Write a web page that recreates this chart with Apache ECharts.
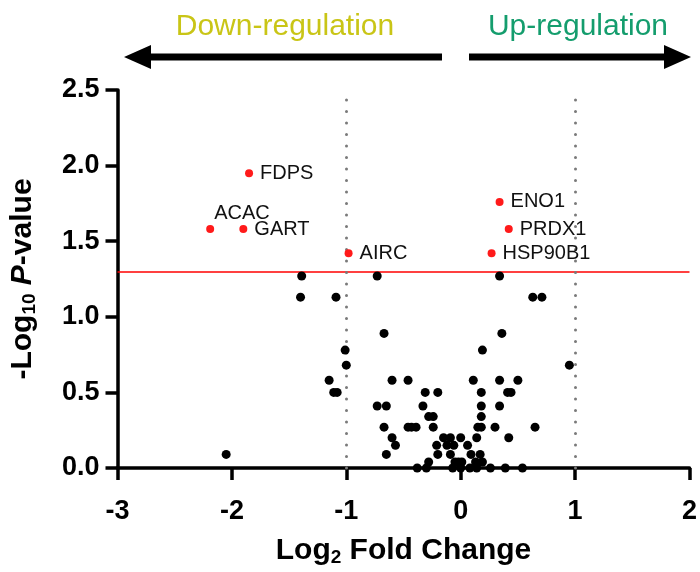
<!DOCTYPE html>
<html>
<head>
<meta charset="utf-8">
<script src="https://cdn.jsdelivr.net/npm/echarts@6/dist/echarts.min.js"></script>
<style>
    html, body { margin: 0; padding: 0; background: #fff; }
    #chart { width: 700px; height: 572px; }
</style>
</head>
<body>
<div id="chart"></div>
<script>
// 坐标轴刻度
const xTicks = [-3, -2, -1, 0, 1, 2];
const yTicks = [0, 0.5, 1.0, 1.5, 2.0, 2.5];
// 阈值：p = 0.05，|log2FC| = 1
const pCut = 1.3;
const fcCut = [-1, 1];

// 显著蛋白（红点）
const sigNames = ['FDPS', 'ACAC', 'GART', 'AIRC', 'ENO1', 'PRDX1', 'HSP90B1'];
const sigFC = [-1.85, -2.19, -1.90, -0.98, 0.34, 0.42, 0.27];
const sigP = [1.95, 1.58, 1.58, 1.42, 1.76, 1.58, 1.42];

// 其余蛋白（黑点）
const otherFC = [
    -1.39, -0.73, 0.34,
    -1.40, -1.09, 0.63, 0.71,
    -0.67, 0.36,
    -1.01, 0.19,
    -1.00, 0.95,
    -1.15, -0.60, -0.46, 0.11, 0.34, 0.50,
    -1.11, -1.08, -0.31, -0.20, 0.18, 0.41, 0.44,
    -0.73, -0.65, -0.33, 0.18, 0.34,
    -0.28, -0.24, 0.18,
    -0.67, -0.46, -0.43, -0.39, -0.24, 0.15, 0.18, 0.30, 0.65,
    -0.60, -0.15, -0.09, 0.00, 0.14, 0.42,
    -0.57, -0.21, -0.12, -0.06, 0.06,
    -2.05, -0.65, -0.20, -0.09, 0.09, 0.17,
    -0.28, -0.05, -0.02, 0.01, 0.13, 0.19,
    -0.38, -0.30, -0.07, 0.00, 0.08, 0.14, 0.26, 0.39, 0.54
];
const otherP = [
    1.27, 1.27, 1.27,
    1.13, 1.13, 1.13, 1.13,
    0.89, 0.89,
    0.78, 0.78,
    0.68, 0.68,
    0.58, 0.58, 0.58, 0.58, 0.58, 0.58,
    0.50, 0.50, 0.50, 0.50, 0.50, 0.50, 0.50,
    0.41, 0.41, 0.41, 0.41, 0.41,
    0.34, 0.34, 0.34,
    0.27, 0.27, 0.27, 0.27, 0.27, 0.27, 0.27, 0.27, 0.27,
    0.20, 0.20, 0.20, 0.20, 0.20, 0.20,
    0.15, 0.15, 0.15, 0.15, 0.15,
    0.09, 0.09, 0.09, 0.09, 0.09, 0.09,
    0.04, 0.04, 0.04, 0.04, 0.04, 0.04,
    0, 0, 0, 0, 0, 0, 0, 0, 0
];

const FONT = '"Liberation Sans", Arial, sans-serif';

const chart = echarts.init(document.getElementById('chart'));

// 红点数据 + 标签
const sigData = sigNames.map((n, i) => {
    const item = { value: [sigFC[i], sigP[i]], name: n };
    if (n === 'ACAC') {
        // ACAC 标签在点的右上方
        item.label = { position: [8, -12], verticalAlign: 'middle', align: 'left' };
    }
    return item;
});
const otherData = otherFC.map((x, i) => [x, otherP[i]]);

const axisCommon = {
    axisLine: { onZero: false, lineStyle: { color: '#000', width: 3.5 } },
    axisTick: { inside: false, length: 12, lineStyle: { color: '#000', width: 3.5 } },
    splitLine: { show: false },
    axisLabel: { color: '#000', fontSize: 27, fontWeight: 'bold', fontFamily: FONT },
    nameTextStyle: { color: '#000', fontFamily: FONT }
};

const option = {
    animation: false,
    grid: { left: 117, right: 6, top: 90, bottom: 99 },
    xAxis: Object.assign({}, axisCommon, {
        type: 'value',
        min: xTicks[0],
        max: xTicks[xTicks.length - 1],
        interval: 1,
        axisLabel: Object.assign({}, axisCommon.axisLabel, { margin: 30 }),
        name: '{a|Log}{sub|2}{a| Fold Change}',
        nameLocation: 'middle',
        nameGap: 66,
        nameTextStyle: {
            rich: {
                a: { fontSize: 30, fontWeight: 'bold', fontFamily: FONT, color: '#000' },
                sub: { fontSize: 19, fontWeight: 'bold', fontFamily: FONT, color: '#000', padding: [14, 0, 0, 0] }
            }
        }
    }),
    yAxis: Object.assign({}, axisCommon, {
        type: 'value',
        min: yTicks[0],
        max: yTicks[yTicks.length - 1],
        interval: 0.5,
        axisLabel: Object.assign({}, axisCommon.axisLabel, {
            margin: 18,
            formatter: v => v.toFixed(1)
        }),
        name: '{a|-Log}{sub|10}{a| }{i|P}{a|-value}',
        nameLocation: 'middle',
        nameRotate: 90,
        nameGap: 78,
        nameTextStyle: {
            rich: {
                a: { fontSize: 30, fontWeight: 'bold', fontFamily: FONT, color: '#000' },
                i: { fontSize: 30, fontWeight: 'bold', fontStyle: 'italic', fontFamily: FONT, color: '#000' },
                sub: { fontSize: 19, fontWeight: 'bold', fontFamily: FONT, color: '#000', padding: [14, 0, 0, 0] }
            }
        }
    }),
    graphic: [
        {
            type: 'text', x: 285, y: 27,
            style: { text: 'Down-regulation', fill: '#c9c516', font: '30px ' + FONT, align: 'center', verticalAlign: 'middle' }
        },
        {
            type: 'text', x: 578, y: 27,
            style: { text: 'Up-regulation', fill: '#149d6d', font: '30px ' + FONT, align: 'center', verticalAlign: 'middle' }
        },
        {
            type: 'polygon',
            shape: { points: [[124, 57], [151, 45], [151, 53.5], [442, 53.5], [442, 60.5], [151, 60.5], [151, 69]] },
            style: { fill: '#000' }
        },
        {
            type: 'polygon',
            shape: { points: [[691, 57], [664, 45], [664, 53.5], [469, 53.5], [469, 60.5], [664, 60.5], [664, 69]] },
            style: { fill: '#000' }
        }
    ],
    series: [
        {
            // 参考线
            type: 'scatter',
            data: [],
            z: 1,
            markLine: {
                silent: true,
                z: 1,
                symbol: 'none',
                label: { show: false },
                data: [
                    { yAxis: pCut, lineStyle: { color: '#ff0000', width: 1.6, type: 'solid' } },
                    { xAxis: fcCut[0], lineStyle: { color: '#7a7a7a', width: 3, type: [0.1, 11.4], cap: 'round' } },
                    { xAxis: fcCut[1], lineStyle: { color: '#7a7a7a', width: 3, type: [0.1, 11.4], cap: 'round' } }
                ]
            }
        },
        {
            type: 'scatter',
            data: otherData,
            symbolSize: 9,
            itemStyle: { color: '#000', opacity: 1 },
            z: 3
        },
        {
            type: 'scatter',
            data: sigData,
            symbolSize: 8,
            itemStyle: { color: '#ff1a1a', opacity: 1 },
            z: 4,
            label: {
                show: true,
                position: 'right',
                distance: 7,
                formatter: p => p.name,
                color: '#111',
                fontSize: 20,
                fontFamily: FONT
            }
        }
    ]
};

chart.setOption(option);
</script>
</body>
</html>
